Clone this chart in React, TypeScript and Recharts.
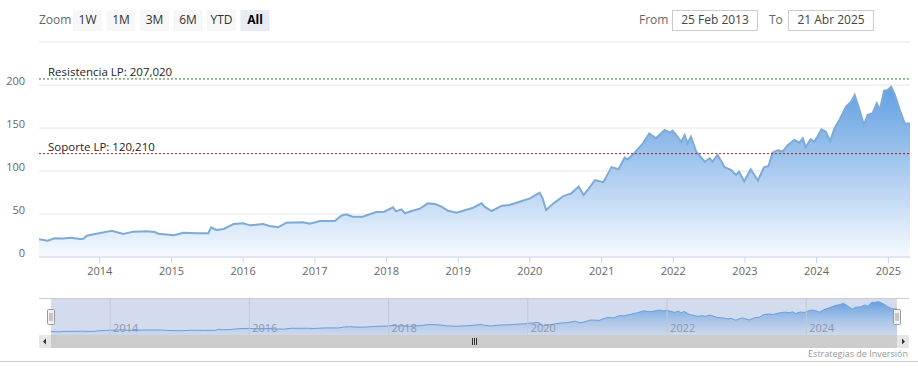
import React from 'react'
import { AreaChart, Area, XAxis, YAxis, CartesianGrid, ReferenceLine } from 'recharts'

const FONT = '"Open Sans", "Liberation Sans", sans-serif'

// weekly-ish closes
const dates = [
  '2013-02-25', '2013-04-10', '2013-05-15', '2013-06-28', '2013-08-08', '2013-09-20', '2013-10-10', '2013-10-26',
  '2013-12-15', '2014-03-03', '2014-05-01', '2014-06-20', '2014-08-28', '2014-10-08', '2014-10-26', '2015-01-12',
  '2015-03-03', '2015-05-12', '2015-07-08', '2015-07-22', '2015-08-18', '2015-09-24', '2015-11-14', '2016-01-01',
  '2016-02-06', '2016-04-12', '2016-05-15', '2016-06-28', '2016-08-08', '2016-11-03', '2016-12-06', '2017-01-26',
  '2017-04-12', '2017-05-15', '2017-06-10', '2017-07-12', '2017-09-01', '2017-11-10', '2017-12-20', '2018-02-03',
  '2018-02-17', '2018-03-18', '2018-04-05', '2018-05-08', '2018-06-20', '2018-07-30', '2018-09-06', '2018-10-08',
  '2018-11-10', '2018-12-24', '2019-01-26', '2019-03-18', '2019-05-01', '2019-05-15', '2019-06-20', '2019-08-12',
  '2019-09-20', '2019-11-10', '2020-01-01', '2020-02-20', '2020-03-06', '2020-03-24', '2020-05-01', '2020-06-20',
  '2020-07-30', '2020-09-06', '2020-10-01', '2020-10-26', '2020-11-28', '2021-01-10', '2021-02-20', '2021-03-28',
  '2021-04-28', '2021-05-15', '2021-06-18', '2021-07-30', '2021-09-01', '2021-10-04', '2021-11-18', '2021-12-14',
  '2021-12-28', '2022-01-22', '2022-02-10', '2022-02-28', '2022-03-14', '2022-04-01', '2022-04-28', '2022-06-10',
  '2022-07-05', '2022-07-20', '2022-08-15', '2022-09-20', '2022-10-24', '2022-11-16', '2022-12-02', '2022-12-28',
  '2023-01-30', '2023-03-08', '2023-04-08', '2023-05-01', '2023-05-22', '2023-06-18', '2023-07-12', '2023-08-08',
  '2023-09-10', '2023-10-05', '2023-10-23', '2023-11-06', '2023-12-02', '2023-12-20', '2024-01-05', '2024-01-26',
  '2024-02-17', '2024-03-10', '2024-04-01', '2024-04-26', '2024-05-30', '2024-06-25', '2024-07-13', '2024-08-07',
  '2024-08-29', '2024-09-17', '2024-10-12', '2024-11-03', '2024-11-18', '2024-12-10', '2024-12-28', '2025-01-15',
  '2025-02-03', '2025-02-28', '2025-03-25', '2025-04-21',
]
const closes = [
  20.6, 19.0, 21.7, 21.5, 22.5, 21.0, 21.2, 24.8,
  27.1, 30.6, 26.7, 29.5, 29.9, 29.0, 27.1, 25.2,
  28.3, 27.5, 27.6, 34.5, 31.4, 32.6, 38.4, 39.1,
  36.8, 38.4, 36.0, 34.5, 39.9, 40.3, 38.8, 41.8,
  41.9, 48.0, 49.6, 46.9, 46.9, 52.3, 52.7, 57.8,
  53.1, 55.4, 50.8, 53.5, 56.2, 62.4, 61.6, 58.5,
  53.8, 51.5, 53.8, 57.3, 62.4, 58.5, 53.5, 59.7,
  60.5, 64.3, 68.2, 74.8, 68.2, 54.7, 62.4, 70.9,
  74.0, 81.8, 72.1, 79.2, 89.4, 87.0, 104.5, 102.0,
  115.5, 113.6, 121.3, 132.2, 143.8, 138.0, 147.7, 144.5,
  146.9, 139.9, 134.0, 141.9, 132.2, 139.9, 122.4, 110.8,
  114.8, 110.8, 118.6, 104.3, 101.2, 95.3, 99.2, 88.0,
  102.0, 89.0, 104.3, 105.8, 121.3, 124.4, 122.4, 130.2,
  136.0, 132.9, 138.0, 127.5, 136.9, 134.0, 139.9, 148.4,
  145.7, 134.9, 149.6, 159.3, 174.8, 180.6, 188.4, 170.9,
  153.5, 165.1, 167.1, 178.7, 170.9, 193.4, 194.2, 198.0,
  188.4, 170.9, 155.5, 155.0,
]

const yTicks = [0, 50, 100, 150, 200, 250]
const xTickYears = [2014, 2015, 2016, 2017, 2018, 2019, 2020, 2021, 2022, 2023, 2024, 2025]
const navTickYears = [2014, 2016, 2018, 2020, 2022, 2024]
const rangeButtons = ['1W', '1M', '3M', '6M', 'YTD', 'All']
const resistance = 207.02
const support = 120.21

const data = dates.map((d, i) => ({ t: Date.parse(d), v: closes[i] }))
const tStart = data[0].t
const tEnd = data[data.length - 1].t
const xTicks = xTickYears.map((y) => Date.UTC(y, 0, 1))
const navTicks = navTickYears.map((y) => Date.UTC(y, 0, 1))

const YTick = (props: any) => {
  const { x, y, payload } = props
  if (payload.value === 250) return null // highstock hides the last label
  return (
    <text x={x} y={y - 5} textAnchor="end" dominantBaseline="central" fontSize={11} fill="#666" fontFamily={FONT}>
      {payload.value}
    </text>
  )
}

const XTick = (props: any) => {
  const { x, y, payload } = props
  return (
    <text x={x} y={y} dy="0.71em" textAnchor="middle" fontSize={11} fill="#666" fontFamily={FONT}>
      {new Date(payload.value).getUTCFullYear()}
    </text>
  )
}

const RefLabel = (props: any) => {
  const vb = props.viewBox || {}
  return (
    <text x={vb.x + 9} y={vb.y - 3} fontSize={11.5} fill="#222" fontFamily={FONT}>
      {props.text}
    </text>
  )
}

const NavLabel = (props: any) => {
  const vb = props.viewBox || {}
  return (
    <text x={vb.x + 3} y={vb.y + vb.height - 3} fontSize={11} fill="#8d96a8" fontFamily={FONT}>
      {props.text}
    </text>
  )
}

export default function App() {
  return (
    <div style={{ position: 'absolute', left: 0, top: 0, width: 918, height: 376, background: '#fff', overflow: 'hidden' }}>
      {/* main chart */}
      <div style={{ position: 'absolute', left: 0, top: 0 }}>
        <AreaChart width={918} height={280} data={data} margin={{ top: 42, right: 8, bottom: 3, left: 0 }}>
          <defs>
            <linearGradient id="mainFill" x1="0" y1="0" x2="0" y2="1">
              <stop offset="0%" stopColor="#62a0e2" stopOpacity={1} />
              <stop offset="50%" stopColor="#abcbef" stopOpacity={1} />
              <stop offset="100%" stopColor="#f6faff" stopOpacity={1} />
            </linearGradient>
          </defs>
          <CartesianGrid vertical={false} stroke="#e6e6e6" />
          <XAxis
            dataKey="t"
            type="number"
            domain={[tStart, tEnd]}
            ticks={xTicks}
            interval={0}
            height={20}
            tickSize={6}
            tickMargin={4}
            tick={<XTick />}
            axisLine={{ stroke: '#ccd6eb' }}
            tickLine={{ stroke: '#ccd6eb' }}
            allowDataOverflow
          />
          <YAxis
            domain={[0, 250]}
            ticks={yTicks}
            interval={0}
            width={39}
            axisLine={false}
            tickLine={false}
            tickSize={0}
            tickMargin={14}
            tick={<YTick />}
          />
          <Area
            type="linear"
            dataKey="v"
            stroke="#7eaad8"
            strokeWidth={2}
            fill="url(#mainFill)"
            fillOpacity={1}
            dot={false}
            activeDot={false}
            isAnimationActive={false}
          />
          <ReferenceLine y={resistance} stroke="#2f7a2f" strokeDasharray="2 2" label={<RefLabel text="Resistencia LP: 207,020" />} />
          <ReferenceLine y={support} stroke="#b02020" strokeDasharray="2 2" label={<RefLabel text="Soporte LP: 120,210" />} />
        </AreaChart>
      </div>

      {/* navigator */}
      <div style={{ position: 'absolute', left: 51, top: 298, width: 846, height: 37, background: '#d3dbee' }}>
        <AreaChart width={846} height={37} data={data} margin={{ top: 0, right: 0, bottom: 0, left: 0 }}>
          <defs>
            <linearGradient id="navFill" x1="0" y1="0" x2="0" y2="1">
              <stop offset="0%" stopColor="#5a99de" stopOpacity={0.9} />
              <stop offset="100%" stopColor="#c9d6ee" stopOpacity={0.6} />
            </linearGradient>
          </defs>
          <XAxis dataKey="t" type="number" domain={[tStart, tEnd]} hide allowDataOverflow />
          <YAxis domain={[0, 220]} hide />
          {navTicks.map((t, i) => (
            <ReferenceLine key={t} x={t} stroke="#c0c9dc" label={<NavLabel text={String(navTickYears[i])} />} />
          ))}
          <Area
            type="linear"
            dataKey="v"
            stroke="#6d9fd6"
            strokeWidth={1}
            fill="url(#navFill)"
            fillOpacity={1}
            dot={false}
            activeDot={false}
            isAnimationActive={false}
          />
        </AreaChart>
      </div>

      {/* range selector, navigator handles, scrollbar, credits */}
      <svg width={918} height={376} style={{ position: 'absolute', left: 0, top: 0, pointerEvents: 'none' }} fontFamily={FONT}>
        <text x={39} y={24} fontSize={12} fill="#666">Zoom</text>
        {rangeButtons.map((b, i) => {
          const x = 73 + i * 33.5
          const sel = b === 'All'
          return (
            <g key={b}>
              <rect x={x} y={10} width={29} height={21} fill={sel ? '#e6ebf5' : '#f7f7f7'} />
              <text x={x + 14.5} y={24} textAnchor="middle" fontSize={12} fill={sel ? '#000' : '#333'} fontWeight={sel ? 700 : 400}>
                {b}
              </text>
            </g>
          )
        })}
        <text x={639} y={24} fontSize={12} fill="#666">From</text>
        <rect x={672.5} y={10.5} width={85} height={20} fill="#fff" stroke="#cccccc" />
        <text x={715} y={24} textAnchor="middle" fontSize={12} fill="#444">25 Feb 2013</text>
        <text x={769} y={24} fontSize={12} fill="#666">To</text>
        <rect x={788.5} y={10.5} width={85} height={20} fill="#fff" stroke="#cccccc" />
        <text x={831} y={24} textAnchor="middle" fontSize={12} fill="#444">21 Abr 2025</text>

        <line x1={39} x2={909} y1={298.5} y2={298.5} stroke="#cccccc" />
        {[51, 897].map((hx) => (
          <g key={hx}>
            <rect x={hx - 3.5} y={309.5} width={7} height={15} rx={1} fill="#f2f2f2" stroke="#999" />
            <line x1={hx - 1} x2={hx - 1} y1={313} y2={321} stroke="#999" />
            <line x1={hx + 1} x2={hx + 1} y1={313} y2={321} stroke="#999" />
          </g>
        ))}

        <rect x={39} y={335} width={870} height={13} fill="#f2f2f2" />
        <rect x={51} y={335} width={846} height={13} fill="#cccccc" />
        <rect x={39} y={335} width={12} height={13} fill="#e6e6e6" />
        <rect x={897} y={335} width={12} height={13} fill="#e6e6e6" />
        <path d="M 46 338.5 L 43 341.5 L 46 344.5 Z" fill="#333" />
        <path d="M 902 338.5 L 905 341.5 L 902 344.5 Z" fill="#333" />
        {[472, 474, 476].map((gx) => (
          <line key={gx} x1={gx + 0.5} x2={gx + 0.5} y1={338} y2={345} stroke="#333" />
        ))}

        <text x={908} y={357} textAnchor="end" fontSize={9} fill="#999">Estrategias de Inversión</text>
        <line x1={0} x2={918} y1={361.5} y2={361.5} stroke="#cccccc" />
      </svg>
    </div>
  )
}
